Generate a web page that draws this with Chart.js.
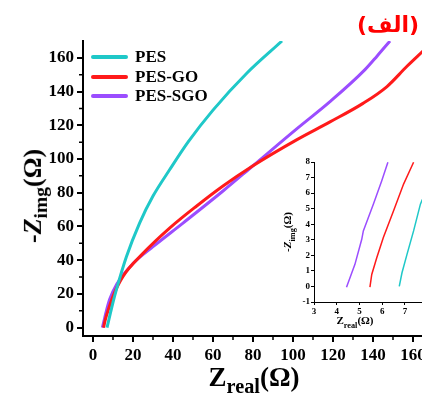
<!DOCTYPE html>
<html>
<head>
<meta charset="utf-8">
<script src="https://cdn.jsdelivr.net/npm/chart.js@4.4.0/dist/chart.umd.min.js"></script>
<style>
  body { margin: 0; background: #fff; }
  #wrap { position: relative; width: 422px; height: 399px; overflow: hidden; }
  #mainChart { position: absolute; left: 0; top: 0; }
  #insetChart { position: absolute; left: 270px; top: 145px; }
  .lbl { position: absolute; font-family: 'Liberation Serif', serif; font-weight: bold; color: #000; white-space: nowrap; }
  #ytitle { left: 35px; top: 196px; font-size: 26px; transform: translate(-50%, -50%) rotate(-90deg); }
  #xtitle { left: 254px; top: 380px; font-size: 27px; transform: translate(-50%, -50%); }
  #iytitle { left: 289px; top: 232px; font-size: 11px; transform: translate(-50%, -50%) rotate(-90deg); }
  #ixtitle { left: 355px; top: 322px; font-size: 11px; transform: translate(-50%, -50%); }
  #tag { right: 3px; top: 12px; font-family: 'DejaVu Sans', sans-serif; font-size: 22px; color: #f00; }
  sub { font-size: 0.75em; }
  #legend { position: absolute; left: 91px; top: 47px; }
  .item { position: relative; height: 19.7px; }
  .item span.sw { position: absolute; left: 0; top: 8px; width: 37px; height: 4px; border-radius: 2px; }
  .item span.tx { position: absolute; left: 44px; top: 0; font-family: 'Liberation Serif', serif; font-weight: bold; font-size: 17px; line-height: 20px; color: #000; white-space: nowrap; }
</style>
</head>
<body>
<div id="wrap">
  <canvas id="mainChart" width="422" height="399"></canvas>
  <canvas id="insetChart" width="152" height="195"></canvas>
  <div id="legend"></div>
  <div class="lbl" id="ytitle">-<i>Z</i><sub>img</sub>(&Omega;)</div>
  <div class="lbl" id="xtitle">Z<sub>real</sub>(&Omega;)</div>
  <div class="lbl" id="iytitle">-<i>Z</i><sub>img</sub>(&Omega;)</div>
  <div class="lbl" id="ixtitle">Z<sub>real</sub>(&Omega;)</div>
  <div class="lbl" id="tag" dir="rtl">(الف)</div>
</div>
<script>
// main plot data (Zreal, -Zimg)
var pesZreal = [7, 8, 10, 11.7, 16.7, 23.3, 30, 38.3, 47.5, 60, 77, 94.5];
var pesZimg  = [0, 5, 15, 22.5, 42, 62, 78, 93.6, 110, 129, 151, 170];

var goZreal = [5.3, 6, 7.5, 10, 15, 25, 38.3, 51.7, 65, 80, 102, 118.5, 135, 147, 157, 165];
var goZimg  = [0, 4, 10, 18.6, 30.4, 44, 59, 72, 84, 96, 111.5, 122, 133, 143, 155, 164];

var sgoZreal = [4.7, 5.5, 6.5, 8.3, 12, 20, 30, 45, 65, 80, 102, 118.5, 136, 142, 148.5];
var sgoZimg  = [0, 4, 9, 16.6, 26, 38, 48, 62, 81, 96, 118, 134, 153, 161, 170];

// inset data (zoom near origin)
var pesInZreal = [6.75, 6.87, 7.09, 7.38, 7.68, 7.77];
var pesInZimg  = [0, 0.88, 2.06, 3.57, 5.29, 5.6];

var goInZreal = [5.46, 5.54, 5.76, 6.05, 6.5, 6.94, 7.38];
var goInZimg  = [-0.05, 0.77, 1.85, 3.14, 4.86, 6.58, 7.98];

var sgoInZreal = [4.43, 4.8, 5.1, 5.17, 5.61, 5.98, 6.25];
var sgoInZimg  = [-0.05, 1.42, 3.03, 3.57, 5.29, 6.8, 7.98];

var seriesNames = ['PES', 'PES-GO', 'PES-SGO'];
var seriesColors = ['#1fc8c8', '#ff1a1a', '#9b4dff'];

var mainTicks = [0, 20, 40, 60, 80, 100, 120, 140, 160];
var mainMinor = [10, 30, 50, 70, 90, 110, 130, 150];

var serif = "'Liberation Serif', 'Times New Roman', serif";

function toPoints(xs, ys) {
    var pts = [];
    for (var i = 0; i < xs.length; i++) {
        pts.push({ x: xs[i], y: ys[i] });
    }
    return pts;
}

function makeDataset(i, xs, ys, width, smooth) {
    var ds = {
        label: seriesNames[i],
        data: toPoints(xs, ys),
        showLine: true,
        borderColor: seriesColors[i],
        backgroundColor: seriesColors[i],
        borderWidth: width,
        pointRadius: 0,
        tension: 0
    };
    if (smooth) ds.cubicInterpolationMode = 'monotone';
    return ds;
}

function keepTicks(list) {
    return function(scale) {
        scale.ticks = list.map(function(v) { return { value: v }; });
    };
}

// legend as html, built from the series
var legendBox = document.getElementById('legend');
seriesNames.forEach(function(name, i) {
    var row = document.createElement('div');
    row.className = 'item';
    row.innerHTML = '<span class="sw" style="background:' + seriesColors[i] + '"></span><span class="tx">' + name + '</span>';
    legendBox.appendChild(row);
});

// little outward minor ticks between labelled ones
var minorTicks = {
    id: 'minorTicks',
    afterDraw: function(chart) {
        var ctx = chart.ctx;
        var xs = chart.scales.x, ys = chart.scales.y;
        ctx.save();
        ctx.strokeStyle = '#000';
        ctx.lineWidth = 1.5;
        ctx.beginPath();
        mainMinor.forEach(function(v) {
            var px = xs.getPixelForValue(v);
            ctx.moveTo(px, xs.top);
            ctx.lineTo(px, xs.top + 4);
            var py = ys.getPixelForValue(v);
            ctx.moveTo(ys.right, py);
            ctx.lineTo(ys.right - 4, py);
        });
        ctx.stroke();
        ctx.restore();
    }
};

var mainChart = new Chart(document.getElementById('mainChart').getContext('2d'), {
    type: 'scatter',
    data: {
        datasets: [
            makeDataset(0, pesZreal, pesZimg, 3, true),
            makeDataset(1, goZreal, goZimg, 3, true),
            makeDataset(2, sgoZreal, sgoZimg, 3, true)
        ]
    },
    options: {
        responsive: false,
        animation: false,
        layout: { padding: { top: 41, left: 0, right: 0, bottom: 0 } },
        plugins: { legend: { display: false }, tooltip: { enabled: false } },
        scales: {
            x: {
                type: 'linear',
                min: -5,
                max: 164.5,
                afterBuildTicks: keepTicks(mainTicks),
                afterFit: function(scale) {
                    scale.height = 63;
                    scale.paddingLeft = 0;
                    scale.paddingRight = 0;
                },
                border: { display: true, color: '#000', width: 2 },
                grid: { drawOnChartArea: false, drawTicks: true, tickLength: 6, color: '#000', lineWidth: 2 },
                ticks: { color: '#000', padding: 3, maxRotation: 0, font: { family: serif, size: 17, weight: 'bold' } }
            },
            y: {
                type: 'linear',
                min: -5,
                max: 170,
                afterBuildTicks: keepTicks(mainTicks),
                afterFit: function(scale) {
                    scale.width = 83;
                    scale.paddingTop = 0;
                    scale.paddingBottom = 0;
                },
                border: { display: true, color: '#000', width: 2 },
                grid: { drawOnChartArea: false, drawTicks: true, tickLength: 6, color: '#000', lineWidth: 2 },
                ticks: { color: '#000', padding: 3, font: { family: serif, size: 17, weight: 'bold' } }
            }
        }
    },
    plugins: [minorTicks]
});

var insetChart = new Chart(document.getElementById('insetChart').getContext('2d'), {
    type: 'scatter',
    data: {
        datasets: [
            makeDataset(0, pesInZreal, pesInZimg, 1.5, false),
            makeDataset(1, goInZreal, goInZimg, 1.5, false),
            makeDataset(2, sgoInZreal, sgoInZimg, 1.5, false)
        ]
    },
    options: {
        responsive: false,
        animation: false,
        layout: { padding: { top: 17, left: 0, right: 0, bottom: 0 } },
        plugins: { legend: { display: false }, tooltip: { enabled: false } },
        scales: {
            x: {
                type: 'linear',
                min: 3,
                max: 7.75,
                afterBuildTicks: keepTicks([3, 4, 5, 6, 7]),
                afterFit: function(scale) {
                    scale.height = 38;
                    scale.paddingLeft = 0;
                    scale.paddingRight = 0;
                },
                border: { display: true, color: '#000', width: 1 },
                grid: { drawOnChartArea: false, tickLength: 3, color: '#000' },
                ticks: { color: '#000', padding: 1, maxRotation: 0, font: { family: serif, size: 9, weight: 'bold' } }
            },
            y: {
                type: 'linear',
                min: -1,
                max: 8,
                afterBuildTicks: keepTicks([-1, 0, 1, 2, 3, 4, 5, 6, 7, 8]),
                afterFit: function(scale) {
                    scale.width = 44;
                    scale.paddingTop = 0;
                    scale.paddingBottom = 0;
                },
                border: { display: true, color: '#000', width: 1 },
                grid: { drawOnChartArea: false, tickLength: 3, color: '#000' },
                ticks: { color: '#000', padding: 1, font: { family: serif, size: 9, weight: 'bold' } }
            }
        }
    }
});
</script>
</body>
</html>
